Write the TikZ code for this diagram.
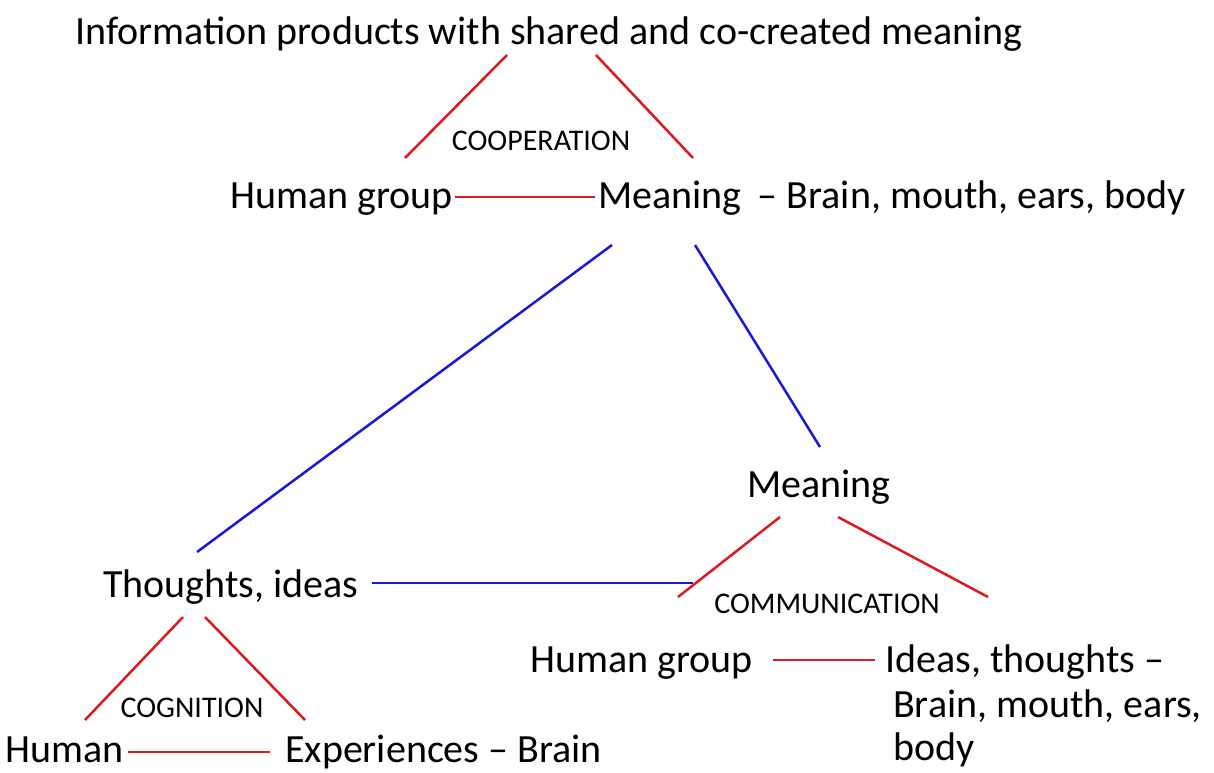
\documentclass[tikz,border=0pt]{standalone}
\usepackage{fontspec}
\setmainfont{Carlito}
\usetikzlibrary{positioning}
\definecolor{linkred}{RGB}{222,24,28}
\definecolor{linkblue}{RGB}{24,24,214}

\begin{document}
\begin{tikzpicture}[x=1pt, y=-1pt]

\tikzstyle{term}=[anchor=base west, inner sep=0pt,
  font=\fontsize{40}{44}\selectfont]
\tikzstyle{process}=[anchor=base, inner sep=0pt,
  font=\fontsize{30}{34}\selectfont]

\tikzstyle{linkr}=[line width=2.5pt, draw=linkred]
\tikzstyle{linkb}=[line width=2.5pt, draw=linkblue]

\useasboundingbox (0,0) rectangle (1214,772);

% cooperation
\node [term] (info) at (75,44) {Information products with shared and co-created meaning};
\node [term] (grpA) at (230,208) {Human group};
\node [term] (meanA) at (598,208) {Meaning};
\node [term, right=16pt of meanA.base east, anchor=base west] (bodyA) {-- Brain, mouth, ears, body};
\node [process] (coop) at (541,150) {COOPERATION};
\draw [linkr] ([shift={(432,11)}]info.base west) -- ([shift={(175,-50)}]grpA.base west);
\draw [linkr] ([shift={(521,11)}]info.base west) -- ([shift={(95,-50)}]meanA.base west);
\draw [linkr] ([shift={(2,-11)}]grpA.base east) -- ([shift={(-3,-11)}]meanA.base west);

% communication
\node [term] (meanB) at (747,497) {Meaning};
\node [term] (grpB) at (530,672) {Human group};
\node [term] (ideas) at (885,672) {Ideas, thoughts --};
\node [term] (brainB) at (893,717) {Brain, mouth, ears,};
\node [term] (bodyB) at (893,760) {body};
\node [process] (comm) at (827,613) {COMMUNICATION};
\draw [linkr] ([shift={(33,20)}]meanB.base west) -- ([shift={(148,-75)}]grpB.base west);
\draw [linkr] ([shift={(91,20)}]meanB.base west) -- ([shift={(103,-75)}]ideas.base west);
\draw [linkr] ([shift={(20,-12)}]grpB.base east) -- ([shift={(-10,-12)}]ideas.base west);

% cognition
\node [term] (thought) at (103,597) {Thoughts, ideas};
\node [term] (human) at (5,762) {Human};
\node [term] (exper) at (285,762) {Experiences -- Brain};
\node [process] (cogn) at (192,717) {COGNITION};
\draw [linkr] ([shift={(80,20)}]thought.base west) -- ([shift={(80,-42)}]human.base west);
\draw [linkr] ([shift={(102,20)}]thought.base west) -- ([shift={(20,-42)}]exper.base west);
\draw [linkr] ([shift={(5,-10)}]human.base east) -- ([shift={(-15,-10)}]exper.base west);

% links between levels
\draw [linkb] ([shift={(14,37)}]meanA.base west) -- ([shift={(94,-45)}]thought.base west);
\draw [linkb] ([shift={(97,37)}]meanA.base west) -- ([shift={(73,-50)}]meanB.base west);
\draw [linkb] ([shift={(14,-14)}]thought.base east) -- ([shift={(-54,86)}]meanB.base west);

\end{tikzpicture}
\end{document}
